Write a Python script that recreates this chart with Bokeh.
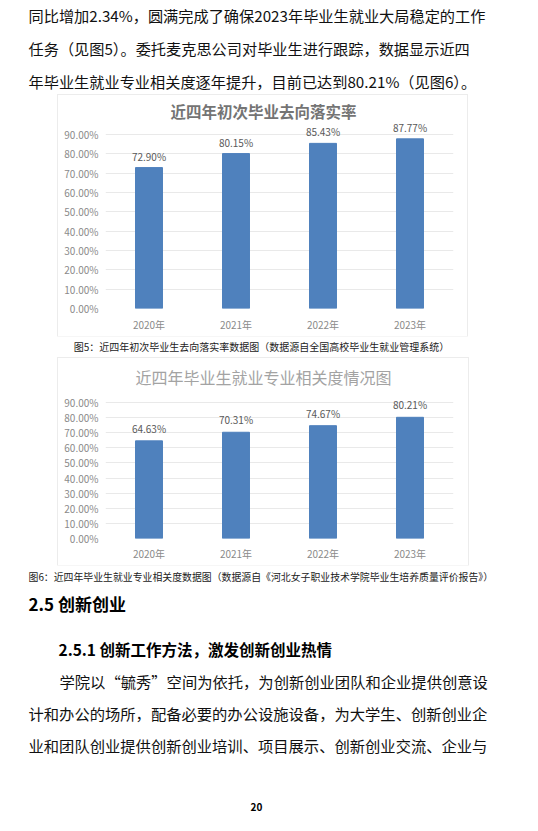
from bokeh.plotting import figure
from bokeh.layouts import column, row
from bokeh.models import (ColumnDataSource, FactorRange, Range1d, FixedTicker,
                          PrintfTickFormatter, Label, Spacer)
from bokeh.core.properties import value
from bokeh.embed import file_html
from bokeh.resources import INLINE

# ---------------- data ----------------
years = ["2020年", "2021年", "2022年", "2023年"]
placement_rate = [72.90, 80.15, 85.43, 87.77]      # 初次毕业去向落实率 (%)
relevance_rate = [64.63, 70.31, 74.67, 80.21]      # 就业专业相关度 (%)
y_ticks = [0, 10, 20, 30, 40, 50, 60, 70, 80, 90]

title1 = "近四年初次毕业去向落实率"
title2 = "近四年毕业生就业专业相关度情况图"
caption1 = "图5：近四年初次毕业生去向落实率数据图（数据源自全国高校毕业生就业管理系统）"
caption2 = "图6：近四年毕业生就业专业相关度数据图（数据源自《河北女子职业技术学院毕业生培养质量评价报告》）"

top_lines = [
    "同比增加2.34%，圆满完成了确保2023年毕业生就业大局稳定的工作",
    "任务（见图5）。委托麦克思公司对毕业生进行跟踪，数据显示近四",
    "年毕业生就业专业相关度逐年提升，目前已达到80.21%（见图6）。",
]
heading = "2.5 创新创业"
subheading = "2.5.1 创新工作方法，激发创新创业热情"
para_lines = [
    "学院以“毓秀”空间为依托，为创新创业团队和企业提供创意设",
    "计和办公的场所，配备必要的办公设施设备，为大学生、创新创业企",
    "业和团队创业提供创新创业培训、项目展示、创新创业交流、企业与",
]
page_no = "20"

CJK = "Noto Sans CJK SC"
BAR = "#4f81bd"
W = 538


def text_fig(height, y_top):
    p = figure(width=W, height=height, x_range=Range1d(0, W),
               y_range=Range1d(y_top + height, y_top),
               output_backend="svg", toolbar_location=None,
               x_axis_type=None, y_axis_type=None, min_border=0,
               outline_line_color=None, background_fill_color="white",
               border_fill_color="white")
    return p


def put(p, x, y, s, size, bold=False, color="#111111", align="left"):
    p.text(x=[x], y=[y], text=[s], text_font=value(CJK),
           text_font_size=f"{size}px",
           text_font_style="bold" if bold else "normal",
           text_color=color, text_baseline="middle", text_align=align)


def chart(vals, title, width, height, mb, ppu, title_y, title_color,
          title_bold, title_size, label_off, x_standoff):
    src = ColumnDataSource(dict(year=years, val=vals,
                                lab=[f"{v:.2f}%" for v in vals]))
    frame_h = height - mb
    p = figure(width=width, height=height, x_range=FactorRange(*years),
               y_range=Range1d(0, frame_h / ppu),
               output_backend="svg", toolbar_location=None,
               min_border_left=47, min_border_right=width - 47 - 348,
               min_border_top=0, min_border_bottom=mb,
               outline_line_color=None, background_fill_color="white",
               border_fill_color="white")
    p.vbar(x="year", top="val", width=0.31, source=src, color=BAR)
    p.text(x="year", y="val", text="lab", source=src, text_font=value(CJK),
           text_font_size="10px", text_color="#595959", text_align="center",
           text_baseline="middle", y_offset=label_off)
    p.yaxis.ticker = FixedTicker(ticks=y_ticks)
    p.yaxis.formatter = PrintfTickFormatter(format="%.2f%%")
    for ax in (p.xaxis, p.yaxis):
        ax.axis_line_color = None
        ax.major_tick_line_color = None
        ax.minor_tick_line_color = None
        ax.major_tick_out = 0
        ax.major_tick_in = 0
        ax.major_label_text_font = CJK
        ax.major_label_text_font_size = "10px"
        ax.major_label_text_color = "#8a8a8a"
    p.yaxis.major_label_standoff = 7
    p.xaxis.major_label_standoff = x_standoff
    p.xgrid.grid_line_color = None
    p.ygrid.grid_line_color = "#e9e9e9"
    p.ygrid.grid_line_width = 1
    p.add_layout(Label(x=158, y=title_y, x_units="screen", y_units="screen",
                       text=title, text_font=CJK,
                       text_font_size=f"{title_size}px",
                       text_font_style="bold" if title_bold else "normal",
                       text_color=title_color, text_align="center",
                       text_baseline="middle"))
    p.styles = {"box-shadow": "0 0 0 1px #ececec"}
    return p


# ---------------- top text (page y 0..95) ----------------
t_top = text_fig(95, 0)
for i, s in enumerate(top_lines):
    put(t_top, 28, 14.5 + 33 * i, s, 15.2)

# ---------------- chart 1 (page y 95..336) ----------------
p1 = chart(placement_rate, title1, 409, 241, 28, 1.933, 198, "#747474",
           True, 15.5, -11.5, 8)

# ---------------- caption 1 (page y 336..358) ----------------
t_cap = text_fig(22, 336)
put(t_cap, 261, 346, caption1, 10, color="#222222", align="center")

# ---------------- chart 2 (page y 358..565) ----------------
p2 = chart(relevance_rate, title2, 410, 207, 27, 1.511, 162, "#a3a3a3",
           False, 16, -12.5, 7)

# ---------------- bottom text (page y 565..831) ----------------
t_bot = text_fig(266, 565)
put(t_bot, 28, 576, caption2, 9.9, color="#222222")
put(t_bot, 28, 603, heading, 17, bold=True, color="#000000")
put(t_bot, 58, 648, subheading, 15.5, bold=True, color="#000000")
put(t_bot, 59, 680, para_lines[0], 15.3)
put(t_bot, 28, 712, para_lines[1], 15.3)
put(t_bot, 28, 744, para_lines[2], 15.3)
put(t_bot, 256, 806, page_no, 10, bold=True, color="#000000", align="center")

layout = column(
    t_top,
    row(Spacer(width=58, height=241), p1, Spacer(width=W - 58 - 409, height=241)),
    t_cap,
    row(Spacer(width=58, height=207), p2, Spacer(width=W - 58 - 410, height=207)),
    t_bot,
    spacing=0,
)

open("out.html", "w").write(file_html(layout, INLINE))
